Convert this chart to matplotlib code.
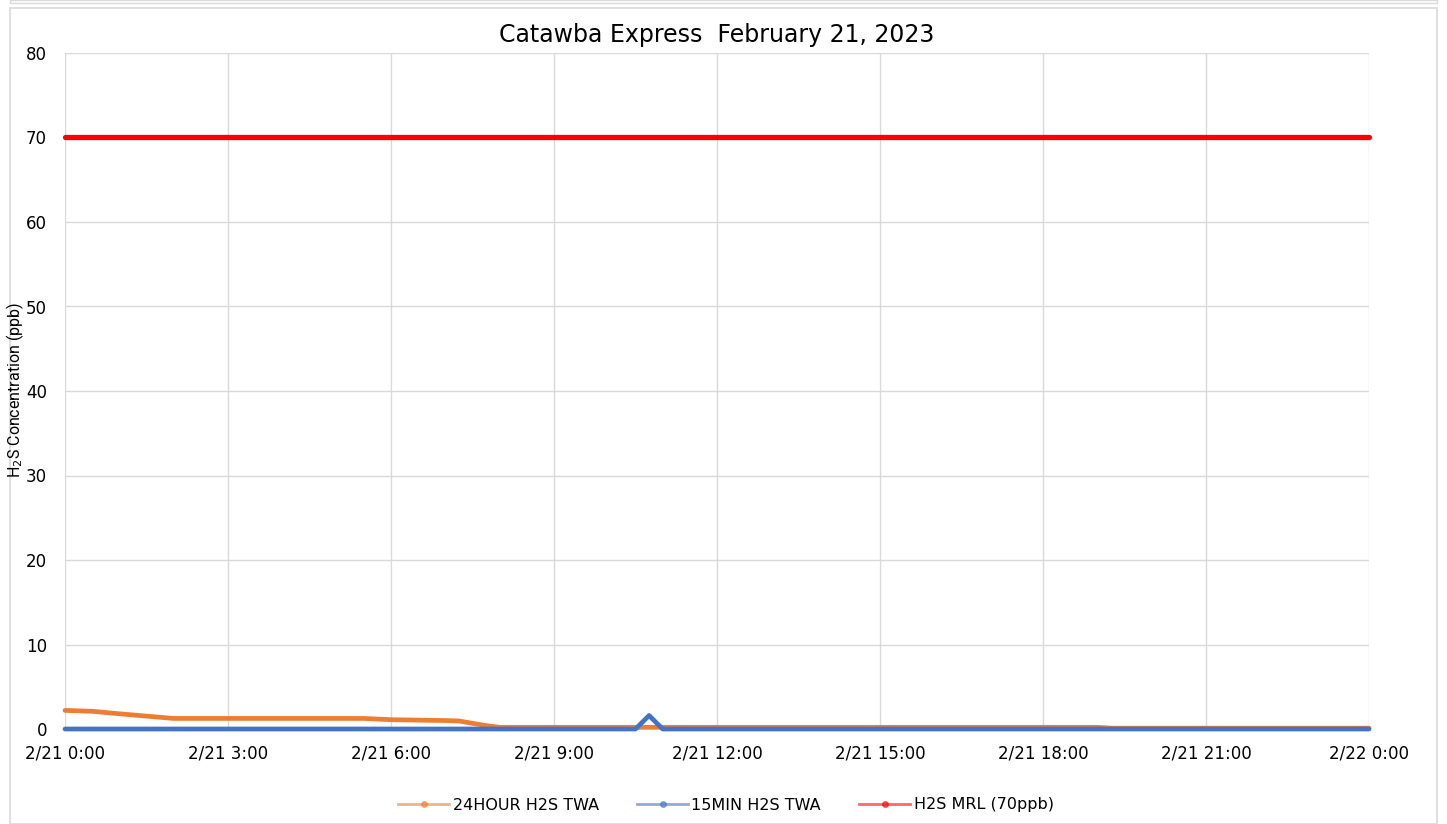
import matplotlib
matplotlib.use("Agg")
import matplotlib.pyplot as plt
from matplotlib.lines import Line2D
from matplotlib.patches import Rectangle

# ---- data (hours since 2/21 0:00) ----
twa24_hours = [0, 0.5, 1, 2, 3, 4, 5, 5.5, 6, 6.5, 7, 7.25, 7.75, 8, 9, 10, 11, 12, 13, 14, 15, 16, 17, 18, 19, 19.25, 20, 21, 22, 23, 24]
twa24_vals  = [2.2, 2.1, 1.8, 1.25, 1.25, 1.25, 1.25, 1.25, 1.1, 1.05, 1.0, 0.95, 0.4, 0.2, 0.2, 0.2, 0.2, 0.2, 0.2, 0.2, 0.2, 0.2, 0.2, 0.2, 0.2, 0.1, 0.1, 0.1, 0.1, 0.1, 0.1]

twa15_hours = [0, 10.5, 10.75, 11, 24]
twa15_vals  = [0, 0, 1.6, 0, 0]

mrl_hours = [0, 24]
mrl_vals  = [70, 70]

xtick_hours  = [0, 3, 6, 9, 12, 15, 18, 21, 24]
xtick_labels = ["2/21 0:00", "2/21 3:00", "2/21 6:00", "2/21 9:00", "2/21 12:00",
                "2/21 15:00", "2/21 18:00", "2/21 21:00", "2/22 0:00"]
yticks = [0, 10, 20, 30, 40, 50, 60, 70, 80]

title = "Catawba Express  February 21, 2023"
ylabel = "H$_2$S Concentration (ppb)"
legend_labels = ["24HOUR H2S TWA", "15MIN H2S TWA", "H2S MRL (70ppb)"]

c_orange = "#ED7D31"
c_blue = "#4472C4"
c_red = "#FF0000"

plt.rcParams['font.family'] = ['DejaVu Sans']

fig = plt.figure(figsize=(14.47, 8.24), dpi=100)
fig.patches.append(Rectangle((10/1447, 0), 1427/1447, 1 - 8/824, transform=fig.transFigure,
                             fill=False, edgecolor="#d9d9d9", linewidth=1.2))
fig.patches.append(Rectangle((10/1447, 1 - 3/824), 1427/1447, 3/824, transform=fig.transFigure,
                             fill=False, edgecolor="#d9d9d9", linewidth=1.0))

ax = fig.add_axes([65/1447, 1 - 729/824, (1369 - 65)/1447, (729 - 53)/824])

ax.plot(twa24_hours, twa24_vals, color=c_orange, lw=3.4, solid_capstyle='round',
        solid_joinstyle='round', zorder=3, clip_on=False)
ax.plot(twa15_hours, twa15_vals, color=c_blue, lw=3.4, solid_capstyle='round',
        solid_joinstyle='round', zorder=4, clip_on=False)
ax.plot(mrl_hours, mrl_vals, color=c_red, lw=3.8, solid_capstyle='round', zorder=5, clip_on=False)

ax.set_xlim(0, 24)
ax.set_ylim(0, 80)
ax.set_xticks(xtick_hours)
ax.set_xticklabels(xtick_labels)
ax.set_yticks(yticks)
ax.tick_params(axis='both', length=0, labelsize=12, colors="#000000")
ax.tick_params(axis='x', pad=11)
ax.tick_params(axis='y', pad=13)
for s in ax.spines.values():
    s.set_visible(False)
ax.grid(True, color="#d9d9d9", linewidth=1.0, zorder=0)
ax.set_axisbelow(True)

ax.set_title(title, fontsize=17, pad=8)
fig.text(15/1447, 1 - 390/824, ylabel, rotation=90, fontsize=11.5, ha='center', va='center',
         family=['Roboto', 'DejaVu Sans'], fontstretch='condensed')

handles = [
    Line2D([0], [0], color=c_orange, lw=2, alpha=0.6, marker='o', markersize=4,
           markerfacecolor=c_orange, markeredgecolor=c_orange),
    Line2D([0], [0], color=c_blue, lw=2, alpha=0.6, marker='o', markersize=4,
           markerfacecolor=c_blue, markeredgecolor=c_blue),
    Line2D([0], [0], color=c_red, lw=2, alpha=0.6, marker='o', markersize=4,
           markerfacecolor=c_red, markeredgecolor=c_red),
]
fig.legend(handles, legend_labels, loc='center', bbox_to_anchor=(726/1447, 1 - 805/824),
           ncol=3, frameon=False, fontsize=11.5, handlelength=3.2, columnspacing=2.4,
           handletextpad=0.2)

fig.savefig("out.png", dpi=100)
